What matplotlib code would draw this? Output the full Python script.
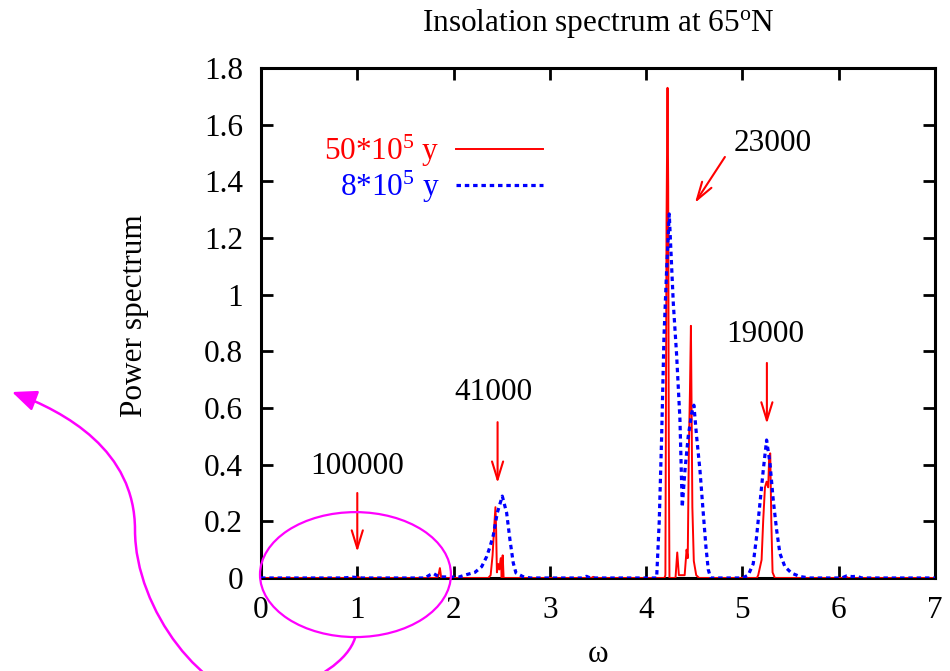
import matplotlib
matplotlib.use("Agg")
import matplotlib.pyplot as plt
from matplotlib.patches import Ellipse, FancyArrowPatch
from matplotlib.path import Path
from matplotlib.ticker import FormatStrFormatter

plt.rcParams['font.family'] = 'serif'
plt.rcParams['font.serif'] = ['Liberation Serif', 'DejaVu Serif']
plt.rcParams['mathtext.fontset'] = 'custom'
plt.rcParams['mathtext.rm'] = 'Liberation Serif'
plt.rcParams['mathtext.it'] = 'Liberation Serif:italic'

# spectrum, 50*10^5 years (red)
omega_red = [0.0, 0.95, 1.0, 1.05, 1.80, 1.84, 1.858, 1.872,
             2.36, 2.385, 2.405, 2.42, 2.435, 2.442, 2.45, 2.462, 2.475, 2.49, 2.50, 2.51, 2.52, 2.55,
             3.43, 3.45, 3.47,
             4.19, 4.20, 4.212, 4.222, 4.229, 4.235, 4.242, 4.305, 4.323, 4.34,
             4.40, 4.42, 4.432, 4.444, 4.455, 4.465, 4.472, 4.48, 4.495, 4.52, 4.55,
             5.15, 5.164, 5.199, 5.216, 5.234, 5.251, 5.268, 5.278, 5.289, 5.30, 5.313, 5.337,
             6.06, 6.08, 6.10, 7.0]
power_red = [0.0, 0.0, 0.003, 0.0, 0.0, 0.005, 0.035, 0.0,
             0.0, 0.01, 0.08, 0.17, 0.25, 0.17, 0.02, 0.05, 0.03, 0.07, 0.0, 0.08, 0.0, 0.0,
             0.0, 0.004, 0.0,
             0.0, 0.01, 1.27, 1.73, 1.38, 0.5, 0.0, 0.0, 0.09, 0.01,
             0.01, 0.10, 0.07, 0.46, 0.66, 0.89, 0.6, 0.25, 0.06, 0.01, 0.0,
             0.0, 0.01, 0.064, 0.205, 0.32, 0.34, 0.32, 0.43, 0.44, 0.2, 0.02, 0.0,
             0.0, 0.004, 0.0, 0.0]

# spectrum, 8*10^5 years (blue)
omega_blue = [0.0, 0.85, 0.95, 1.05, 1.70, 1.76, 1.79, 1.82, 1.86,
              2.05, 2.136, 2.222, 2.292, 2.343, 2.378, 2.412, 2.454, 2.506, 2.551, 2.586, 2.620, 2.648, 2.72, 2.80,
              3.33, 3.38, 3.42,
              4.05, 4.109, 4.136, 4.161, 4.185, 4.213, 4.240, 4.282, 4.316, 4.351, 4.375,
              4.403, 4.437, 4.472, 4.496, 4.524, 4.559, 4.593, 4.621, 4.645, 4.670,
              5.0, 5.06, 5.112, 5.147, 5.182, 5.216, 5.251, 5.286, 5.320, 5.355, 5.389, 5.441, 5.511, 5.60, 5.70,
              6.03, 6.08, 6.14, 6.19, 6.24, 7.0]
power_blue = [0.0, 0.0, 0.003, 0.0, 0.0, 0.012, 0.016, 0.01, 0.004,
              0.003, 0.012, 0.02, 0.04, 0.075, 0.11, 0.15, 0.23, 0.289, 0.23, 0.134, 0.053, 0.018, 0.005, 0.0,
              0.0, 0.006, 0.0,
              0.0, 0.0, 0.2, 0.5, 0.85, 1.09, 1.285, 0.97, 0.79, 0.56, 0.25,
              0.38, 0.5, 0.58, 0.61, 0.5, 0.38, 0.23, 0.11, 0.03, 0.0,
              0.0, 0.01, 0.05, 0.146, 0.264, 0.38, 0.487, 0.405, 0.275, 0.17, 0.087, 0.04, 0.017, 0.005, 0.0,
              0.0, 0.007, 0.005, 0.006, 0.0, 0.0]

# period labels: text, text position, arrow start, arrow end
periods = ['100000', '41000', '23000', '19000']
text_x = [1.0, 2.418, 5.317, 5.237]
text_y = [0.395, 0.653, 1.535, 0.858]
arrow_from = [(1.0, 0.30), (2.457, 0.55), (4.818, 1.486), (5.254, 0.759)]
arrow_to = [(1.0, 0.092), (2.457, 0.335), (4.507, 1.324), (5.254, 0.544)]

fs = 22.5
fig = plt.figure(figsize=(9.5, 6.71), dpi=100)
ax = fig.add_axes([261 / 950, 1 - 578 / 671, 674 / 950, 510 / 671])

ax.plot(omega_red, power_red, color='red', lw=1.4, label='50*10$^{\\mathrm{5}}$ y', zorder=3)
ax.plot(omega_blue, power_blue, color='blue', lw=2.3, linestyle=(0, (1.4, 1.2)),
        label='8*10$^{\\mathrm{5}}$ y', zorder=4)

ax.set_xlim(0, 7)
ax.set_ylim(0, 1.8)
ax.set_xticks(range(0, 8))
ax.set_yticks([0, 0.2, 0.4, 0.6, 0.8, 1.0, 1.2, 1.4, 1.6, 1.8])
ax.yaxis.set_major_formatter(FormatStrFormatter('%g'))
ax.tick_params(direction='in', length=8.5, width=2, top=True, right=True, labelsize=fs)
ax.tick_params(axis='y', pad=13)
ax.tick_params(axis='x', pad=13)
for sp in ax.spines.values():
    sp.set_linewidth(2.2)

ax.set_ylabel('Power spectrum', fontsize=fs)
ax.yaxis.set_label_coords(-0.166, 0.515)
ax.set_xlabel('ω', fontsize=fs)
ax.xaxis.set_label_coords(0.5, -0.122)

fig.text(598 / 950, 1 - 23 / 671, 'Insolation spectrum at 65$^{\\mathrm{o}}$N',
         ha='center', va='center', fontsize=fs)

leg = ax.legend(loc='upper right', bbox_to_anchor=(543 / 950, 1 - 133 / 671), bbox_transform=fig.transFigure,
                frameon=False, markerfirst=False, handlelength=2.8, handletextpad=0.5,
                labelspacing=0.0, labelcolor='linecolor', fontsize=fs, borderpad=0, borderaxespad=0)

for i in range(len(periods)):
    ax.text(text_x[i], text_y[i], periods[i], ha='center', va='center', fontsize=fs)
    ax.annotate('', xy=arrow_to[i], xytext=arrow_from[i],
                arrowprops=dict(arrowstyle='->,head_length=0.65,head_width=0.2', color='red',
                                lw=1.5, shrinkA=0, shrinkB=0, mutation_scale=20))

# magenta highlight around the low-frequency part
ell = Ellipse((0.981, 0.012), 1.983, 0.441, fill=False, edgecolor='magenta', lw=1.6,
              clip_on=False, zorder=5)
ax.add_patch(ell)


def px(x, y):
    return (x / 950, 1 - y / 671)


verts = [px(355, 638), px(348, 660), px(320, 680), px(265, 700),
         px(205, 700), px(135, 610), px(135, 530),
         px(135, 450), px(65, 412), px(12, 392)]
codes = [Path.MOVETO] + [Path.CURVE4] * 9
curve = FancyArrowPatch(path=Path(verts, codes), arrowstyle='-|>,head_length=0.75,head_width=0.32',
                        mutation_scale=20, color='magenta', lw=1.8, transform=fig.transFigure,
                        shrinkA=0, shrinkB=0)
fig.add_artist(curve)

fig.savefig('out.png', dpi=100)
